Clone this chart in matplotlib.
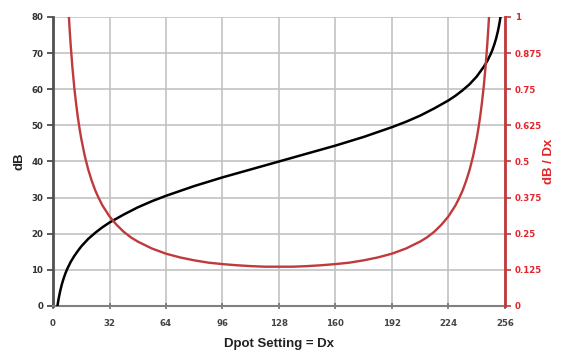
import matplotlib
matplotlib.use("Agg")
import matplotlib.pyplot as plt

# Black curve: dB vs Dpot setting
d_db = [2.5, 3, 3.5, 4, 5, 6, 7, 8, 10, 12, 14, 16, 20, 24, 28, 32, 40, 48, 56,
        64, 80, 96, 112, 128, 144, 160, 176, 192, 200, 208, 216, 224, 228, 232,
        236, 240, 244, 246, 248, 249, 250, 251, 252, 252.5, 253, 253.5]
db_vals = [0.0, 1.5, 2.8, 4.0, 6.0, 7.6, 9.0, 10.2, 12.2, 13.8, 15.2, 16.5,
           18.6, 20.3, 21.8, 23.1, 25.3, 27.3, 29.0, 30.5, 33.2, 35.6, 37.8,
           40.0, 42.2, 44.4, 46.8, 49.5, 51.0, 52.7, 54.7, 56.9, 58.2, 59.7,
           61.4, 63.5, 66.2, 67.8, 69.8, 71.0, 72.4, 74.0, 76.0, 77.2, 78.5,
           80.0]

# Red curve: dB / Dx (right axis)
d_slope = [9, 9.5, 10, 11, 12, 13, 14, 15, 16, 18, 20, 22, 24, 26, 28, 32, 36,
           40, 44, 48, 56, 64, 72, 80, 88, 96, 104, 112, 120, 128, 136, 144,
           152, 160, 168, 176, 184, 192, 200, 208, 212, 216, 220, 224, 228, 230,
           232, 234, 236, 238, 240, 241, 242, 243, 244, 245, 246, 246.5, 247]
slope_vals = [1.0, 0.950, 0.904, 0.825, 0.759, 0.704, 0.656, 0.615, 0.579,
              0.519, 0.471, 0.432, 0.399, 0.372, 0.348, 0.310, 0.281, 0.257,
              0.238, 0.223, 0.199, 0.181, 0.168, 0.158, 0.150, 0.145, 0.141,
              0.138, 0.136, 0.136, 0.136, 0.138, 0.141, 0.145, 0.150, 0.158,
              0.168, 0.181, 0.199, 0.223, 0.238, 0.257, 0.281, 0.310, 0.348,
              0.372, 0.399, 0.432, 0.471, 0.519, 0.579, 0.615, 0.656, 0.704,
              0.759, 0.825, 0.904, 0.950, 1.0]

x_ticks = [0, 32, 64, 96, 128, 160, 192, 224, 256]
y_left_ticks = [0, 10, 20, 30, 40, 50, 60, 70, 80]
y_right_ticks = [0, 0.125, 0.25, 0.375, 0.5, 0.625, 0.75, 0.875, 1]
y_right_labels = ["0", "0.125", "0.25", "0.375", "0.5", "0.625", "0.75", "0.875", "1"]

RED_LINE = "#c0393b"
RED_TEXT = "#e3242b"
GRID = "#c2c2c2"
LABEL_FONT = ["Liberation Sans", "DejaVu Sans"]

fig = plt.figure(figsize=(5.61, 3.54), dpi=100)
ax = fig.add_axes([0.0945, 0.1356, 0.8055, 0.8164])
ax2 = ax.twinx()

ax.set_xlim(0, 256)
ax.set_ylim(0, 80)
ax2.set_ylim(0, 1)

ax.set_xticks(x_ticks)
ax.set_yticks(y_left_ticks)
ax2.set_yticks(y_right_ticks)
ax2.set_yticklabels(y_right_labels)

ax.grid(True, color=GRID, linewidth=1.2)
ax.set_axisbelow(True)

ax.plot(d_db, db_vals, color="black", linewidth=1.8, zorder=3)
ax2.plot(d_slope, slope_vals, color=RED_LINE, linewidth=1.7, zorder=3)

ax.spines["top"].set_visible(False)
ax2.spines["top"].set_visible(False)
ax.spines["right"].set_visible(False)
ax2.spines["left"].set_visible(False)
ax2.spines["bottom"].set_visible(False)
ax.spines["left"].set_color("#505050")
ax.spines["left"].set_linewidth(2.0)
ax.spines["bottom"].set_color("#808080")
ax.spines["bottom"].set_linewidth(1.5)
ax2.spines["right"].set_color(RED_LINE)
ax2.spines["right"].set_linewidth(2.0)

ax.tick_params(axis="y", direction="out", length=4, width=1.2, color="#404040",
               labelcolor="#333333", labelsize=6.2, pad=3)
ax.tick_params(axis="x", direction="inout", length=5, width=1.2, color="#707070",
               labelcolor="#444444", labelsize=6.2, pad=7)
ax2.tick_params(axis="y", direction="out", length=4, width=1.2, color=RED_LINE,
                labelcolor=RED_TEXT, labelsize=6.2, pad=3)
for lab in ax.get_xticklabels() + ax.get_yticklabels() + ax2.get_yticklabels():
    lab.set_fontweight("bold")

ax.set_xlabel("Dpot Setting = Dx", fontsize=9.5, fontweight="bold", color="#222222",
              labelpad=7, family=LABEL_FONT)
ax.set_ylabel("dB", fontsize=9.5, fontweight="bold", color="#222222", labelpad=4,
              family=LABEL_FONT)
ax2.set_ylabel("dB / Dx", fontsize=9.5, fontweight="bold", color=RED_TEXT, labelpad=1,
               family=LABEL_FONT)

fig.savefig("out.png", dpi=100, facecolor="white")
